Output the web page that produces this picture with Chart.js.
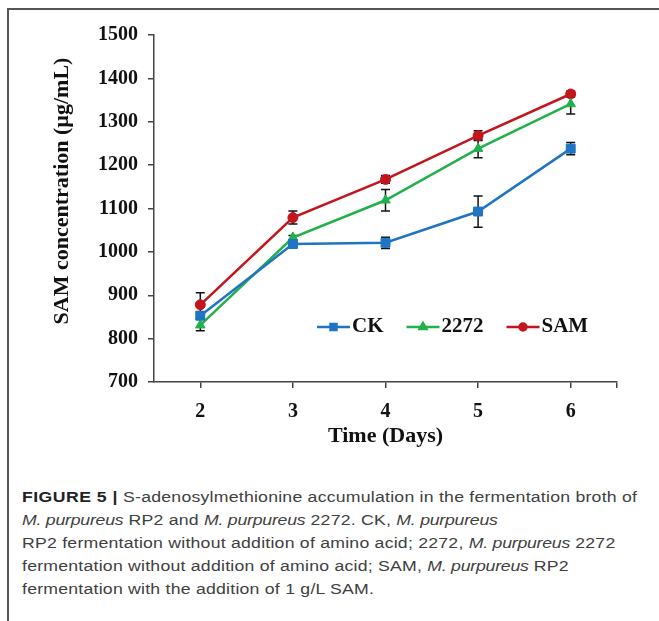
<!DOCTYPE html>
<html>
<head>
<meta charset="utf-8">
<script src="https://cdn.jsdelivr.net/npm/chart.js@4.4.1/dist/chart.umd.min.js"></script>
<style>
  html, body { margin:0; padding:0; background:#fff; }
  body { width:659px; height:621px; position:relative; overflow:hidden; }
  #frame { position:absolute; left:7px; top:8px; width:700px; height:700px;
           border-top:2px solid #555; border-left:2px solid #555; }
  #wrap { position:absolute; left:0; top:0; width:659px; height:460px; }
  #caption { position:absolute; left:22px; top:485px; font-family:"Liberation Sans", Arial, sans-serif;
             font-size:15.5px; line-height:23px; color:#404040; white-space:nowrap;
             transform:scaleX(1.14); transform-origin:0 0; letter-spacing:0.2px; }
  #caption b { color:#222; letter-spacing:0.4px; }
  #caption i { letter-spacing:-0.2px; }
</style>
</head>
<body>
<div id="frame"></div>
<div id="wrap"><canvas id="c" width="659" height="460"></canvas></div>
<div id="caption">
<b>FIGURE 5 |</b> S-adenosylmethionine accumulation in the fermentation broth of<br>
<i>M. purpureus</i> RP2 and <i>M. purpureus</i> 2272. CK, <i>M. purpureus</i><br>
RP2 fermentation without addition of amino acid; 2272, <i>M. purpureus</i> 2272<br>
fermentation without addition of amino acid; SAM, <i>M. purpureus</i> RP2<br>
fermentation with the addition of 1 g/L SAM.
</div>
<script>
// ---- data ----
const days = [2, 3, 4, 5, 6];
const seriesNames = ['CK', '2272', 'SAM'];
const ckValues = [853, 1018, 1021, 1093, 1238];
const ckErrors = [8, 5, 13, 36, 14];
const g2272Values = [831, 1033, 1119, 1238, 1341];
const g2272Errors = [13, 5, 25, 21, 23];
const samValues = [878, 1079, 1167, 1268, 1364];
const samErrors = [28, 15, 9, 11, 7];
const xTickValues = [2, 3, 4, 5, 6];
const yTickValues = [700, 800, 900, 1000, 1100, 1200, 1300, 1400, 1500];
const xTitle = 'Time (Days)';
const yTitle = 'SAM concentration (µg/mL)';

const serif = '"Liberation Serif", "Times New Roman", serif';
const axisColor = '#444';

function pts(vals) { return days.map((d, i) => ({x: d, y: vals[i]})); }

const styles = [
  {color:'#1f74c4', pointStyle:'rect', radius:6.3, legendRadius:4.2},
  {color:'#22b04b', pointStyle:'triangle', radius:5.5, legendRadius:4},
  {color:'#c3161c', pointStyle:'circle', radius:5, legendRadius:3.5}
];
const valueSets = [ckValues, g2272Values, samValues];
const errorSets = [ckErrors, g2272Errors, samErrors];

const datasets = valueSets.map((v, k) => ({
  label: seriesNames[k],
  data: pts(v),
  errors: errorSets[k],
  borderColor: styles[k].color,
  backgroundColor: styles[k].color,
  pointBackgroundColor: styles[k].color,
  pointBorderColor: styles[k].color,
  pointStyle: styles[k].pointStyle,
  pointRadius: styles[k].radius,
  pointBorderWidth: 1,
  borderWidth: 2.5,
  tension: 0,
  legendRadius: styles[k].legendRadius
}));

const errorBars = {
  id: 'errorBars',
  beforeDatasetsDraw(chart) {
    const {ctx, scales:{x, y}} = chart;
    ctx.save();
    ctx.strokeStyle = '#111';
    ctx.lineWidth = 1.5;
    chart.data.datasets.forEach(ds => {
      ds.data.forEach((p, i) => {
        const e = ds.errors[i];
        const px = x.getPixelForValue(p.x);
        const y1 = y.getPixelForValue(p.y + e);
        const y2 = y.getPixelForValue(p.y - e);
        ctx.beginPath();
        ctx.moveTo(px, y1); ctx.lineTo(px, y2);
        ctx.moveTo(px - 4.5, y1); ctx.lineTo(px + 4.5, y1);
        ctx.moveTo(px - 4.5, y2); ctx.lineTo(px + 4.5, y2);
        ctx.stroke();
      });
    });
    ctx.restore();
  }
};

const extras = {
  id: 'extras',
  afterDraw(chart) {
    const {ctx, chartArea:a} = chart;
    ctx.save();
    ctx.fillStyle = '#111';
    // axis titles
    ctx.font = 'bold 22px ' + serif;
    ctx.textAlign = 'center';
    ctx.textBaseline = 'middle';
    ctx.fillText(xTitle, (a.left + a.right) / 2, 436);
    ctx.save();
    ctx.translate(62, 191);
    ctx.rotate(-Math.PI / 2);
    ctx.fillText(yTitle, 0, 0);
    ctx.restore();
    // legend
    ctx.font = 'bold 21px ' + serif;
    ctx.textAlign = 'left';
    let lx = 317;
    const ly = 327;
    chart.data.datasets.forEach(ds => {
      ctx.strokeStyle = ds.borderColor;
      ctx.lineWidth = 2.5;
      ctx.beginPath(); ctx.moveTo(lx, ly); ctx.lineTo(lx + 33, ly); ctx.stroke();
      ctx.fillStyle = ds.borderColor;
      Chart.helpers.drawPoint(ctx, {pointStyle: ds.pointStyle, radius: ds.legendRadius, borderWidth: 1}, lx + 16.5, ly);
      ctx.fillStyle = '#111';
      ctx.fillText(ds.label, lx + 35, ly);
      lx += 35 + ctx.measureText(ds.label).width + 23;
    });
    ctx.restore();
  }
};

new Chart(document.getElementById('c'), {
  type: 'line',
  data: { datasets },
  plugins: [errorBars, extras],
  options: {
    responsive: false,
    animation: false,
    layout: { padding: { top: 35, right: 42, left: 0, bottom: 0 } },
    plugins: { legend: { display: false }, tooltip: { enabled: false } },
    scales: {
      x: {
        type: 'linear', min: 1.5, max: 6.5,
        afterBuildTicks: s => { s.ticks = xTickValues.concat([6.5]).map(v => ({value: v})); },
        afterFit: s => { s.height = 78; },
        border: { display: true, color: axisColor, width: 1.5 },
        grid: { display: true, drawOnChartArea: false, drawTicks: true, tickLength: 6, color: axisColor, lineWidth: 1.5 },
        ticks: { color: '#111', font: { family: serif, size: 20, weight: 'bold' }, padding: 12,
                 maxRotation: 0, autoSkip: false,
                 callback: v => (xTickValues.includes(v) ? String(v) : '') }
      },
      y: {
        type: 'linear', min: 700, max: 1500,
        afterBuildTicks: s => { s.ticks = yTickValues.map(v => ({value: v})); },
        afterFit: s => { s.width = 154; },
        border: { display: true, color: axisColor, width: 1.5 },
        grid: { display: true, drawOnChartArea: false, drawTicks: true, tickLength: 6, color: axisColor, lineWidth: 1.5 },
        ticks: { color: '#111', font: { family: serif, size: 20, weight: 'bold' }, padding: 10,
                 callback: v => String(v) }
      }
    }
  }
});
</script>
</body>
</html>
